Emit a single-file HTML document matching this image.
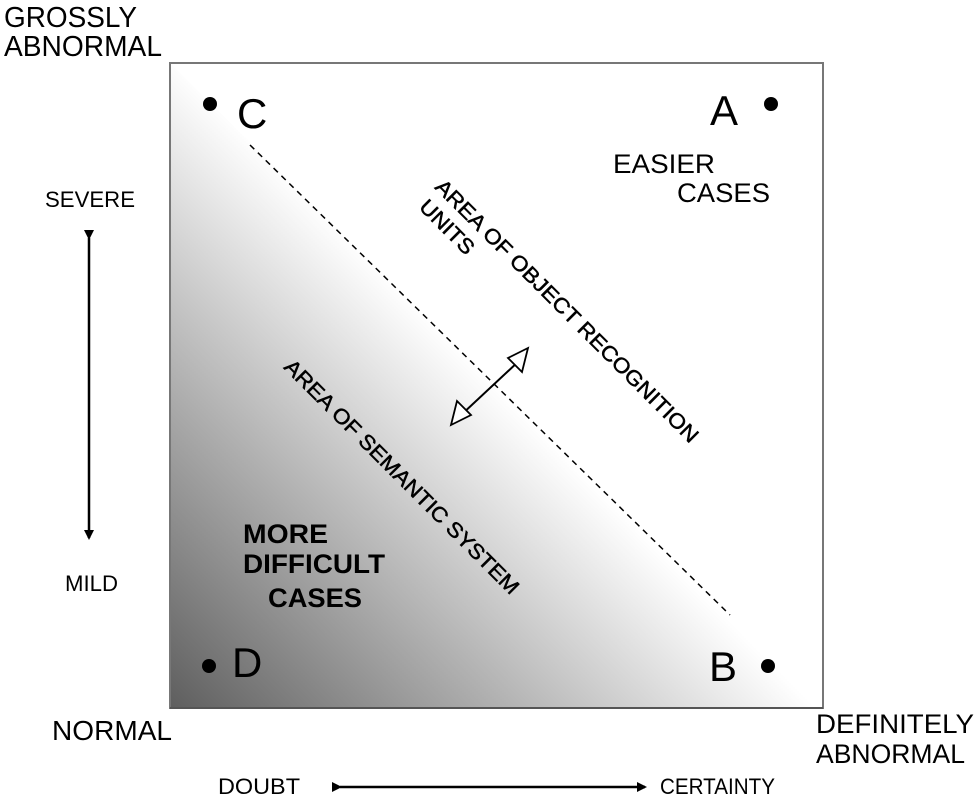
<!DOCTYPE html>
<html><head><meta charset="utf-8"><style>
html,body{margin:0;padding:0;background:#fff;}
svg{display:block;font-family:"Liberation Sans",Arial,sans-serif;}
</style></head><body>
<svg width="976" height="800" viewBox="0 0 976 800" xmlns="http://www.w3.org/2000/svg">
<defs>
<linearGradient id="g" gradientUnits="userSpaceOnUse" x1="170" y1="708" x2="496" y2="385">
<stop offset="0" stop-color="#5e5e5e"/>
<stop offset="1" stop-color="#ffffff"/>
</linearGradient>
<marker id="ah" markerWidth="10" markerHeight="10" refX="8" refY="5" orient="auto" markerUnits="userSpaceOnUse">
<path d="M0,0 L10,5 L0,10 z" fill="#000"/>
</marker>
</defs>
<rect x="170" y="63" width="653" height="645" fill="#fff" stroke="#777" stroke-width="2"/>
<polygon points="171,64 822,707 171,707" fill="url(#g)"/>
<line x1="170" y1="708" x2="823" y2="708" stroke="#555" stroke-width="2"/>
<line x1="250" y1="145" x2="730" y2="615" stroke="#000" stroke-width="1.5" stroke-dasharray="6,5"/>

<g font-size="29">
<text x="4" y="27" textLength="133" lengthAdjust="spacingAndGlyphs">GROSSLY</text>
<text x="4" y="56" textLength="158" lengthAdjust="spacingAndGlyphs">ABNORMAL</text>
<text x="52" y="740" font-size="28" textLength="120" lengthAdjust="spacingAndGlyphs">NORMAL</text>
</g>
<g font-size="27">
<text x="816" y="733" textLength="158" lengthAdjust="spacingAndGlyphs">DEFINITELY</text>
<text x="816" y="763" textLength="149" lengthAdjust="spacingAndGlyphs">ABNORMAL</text>
</g>
<g font-size="22">
<text x="45" y="207" textLength="90" lengthAdjust="spacingAndGlyphs">SEVERE</text>
<text x="65" y="591" textLength="53" lengthAdjust="spacingAndGlyphs">MILD</text>
<text x="218" y="794" textLength="82" lengthAdjust="spacingAndGlyphs">DOUBT</text>
<text x="660" y="794" textLength="115" lengthAdjust="spacingAndGlyphs">CERTAINTY</text>
</g>
<line x1="89" y1="238" x2="89" y2="538" stroke="#000" stroke-width="2.5" marker-start="url(#ah)" marker-end="url(#ah)"/>
<line x1="340" y1="787" x2="645" y2="787" stroke="#000" stroke-width="2.5" marker-start="url(#ah)" marker-end="url(#ah)"/>

<g font-size="42">
<text x="237" y="128">C</text>
<text x="710" y="125">A</text>
<text x="232" y="677">D</text>
<text x="709" y="681">B</text>
</g>
<circle cx="210" cy="104" r="7"/>
<circle cx="771" cy="104" r="7"/>
<circle cx="209" cy="666" r="7"/>
<circle cx="768" cy="666" r="7"/>

<g font-size="27">
<text x="613" y="173" textLength="102" lengthAdjust="spacingAndGlyphs">EASIER</text>
<text x="677" y="202" textLength="93" lengthAdjust="spacingAndGlyphs">CASES</text>
</g>
<g font-size="27" font-weight="bold">
<text x="243" y="543" textLength="85" lengthAdjust="spacingAndGlyphs">MORE</text>
<text x="243" y="573" textLength="142" lengthAdjust="spacingAndGlyphs">DIFFICULT</text>
<text x="268" y="607" textLength="94" lengthAdjust="spacingAndGlyphs">CASES</text>
</g>
<g font-size="21" stroke="#000" stroke-width="0.5">
<text transform="translate(434,188) rotate(45)" textLength="362" lengthAdjust="spacingAndGlyphs">AREA OF OBJECT RECOGNITION</text>
<text transform="translate(418,208) rotate(45)" textLength="68" lengthAdjust="spacingAndGlyphs">UNITS</text>
<text transform="translate(283,368) rotate(45)" textLength="322" lengthAdjust="spacingAndGlyphs">AREA OF SEMANTIC SYSTEM</text>
</g>
<line x1="520" y1="360" x2="460" y2="416" stroke="#000" stroke-width="2"/>
<polygon points="528,348 522,372 508,358" fill="#fff" stroke="#000" stroke-width="1.8"/>
<polygon points="451,425 457,401 471,415" fill="#fff" stroke="#000" stroke-width="1.8"/>
</svg>
</body></html>
